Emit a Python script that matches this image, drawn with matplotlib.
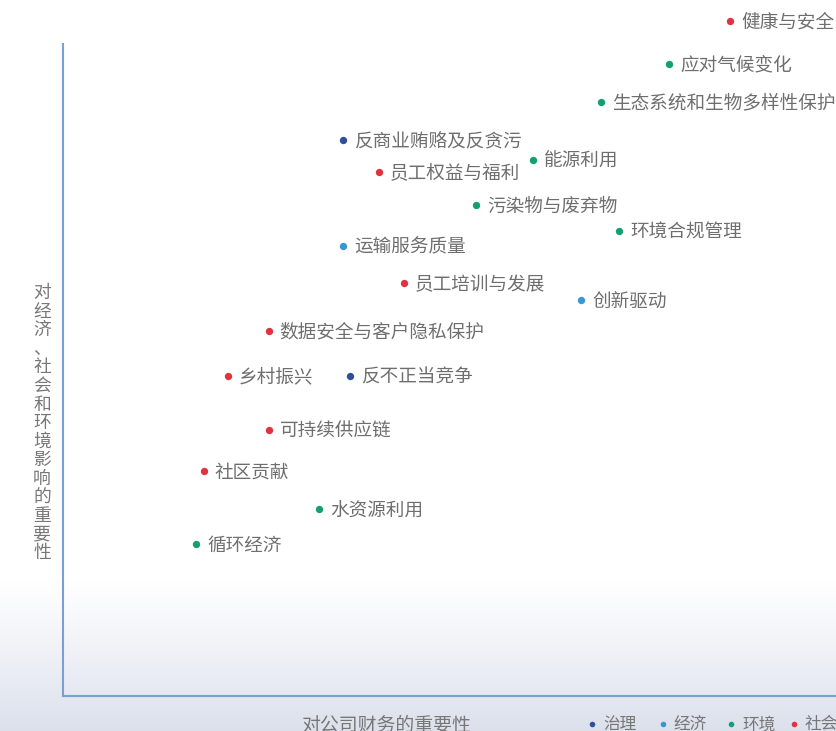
import numpy as np
import matplotlib
matplotlib.use("Agg")
import matplotlib.pyplot as plt
from matplotlib.lines import Line2D

plt.rcParams["font.family"] = ["Noto Sans CJK SC", "DejaVu Sans"]

# materiality topics: x = importance to company finances, y = importance to economy/society/environment
topics = ["健康与安全", "应对气候变化", "生态系统和生物多样性保护", "反商业贿赂及反贪污",
          "能源利用", "员工权益与福利", "污染物与废弃物", "环境合规管理", "运输服务质量",
          "员工培训与发展", "创新驱动", "数据安全与客户隐私保护", "乡村振兴", "反不正当竞争",
          "可持续供应链", "社区贡献", "水资源利用", "循环经济"]
x_finance = [8.63, 7.84, 6.96, 3.62, 6.08, 4.09, 5.34, 7.19, 3.62,
             4.41, 6.70, 2.66, 2.13, 3.71, 2.66, 1.82, 3.31, 1.72]
y_impact = [10.35, 9.69, 9.11, 8.53, 8.22, 8.04, 7.53, 7.13, 6.90,
            6.33, 6.07, 5.60, 4.91, 4.91, 4.08, 3.45, 2.87, 2.33]
group = ["社会", "环境", "环境", "治理", "环境", "社会", "环境", "环境", "经济",
         "社会", "经济", "社会", "社会", "治理", "社会", "社会", "环境", "环境"]

groups = ["治理", "经济", "环境", "社会"]
colors = {"治理": "#2f4f9a", "经济": "#3a96d2", "环境": "#12a070", "社会": "#e0323f"}

W, H = 836, 731
fig = plt.figure(figsize=(W / 100, H / 100), dpi=100)

# soft background fading to a light blue-grey at the bottom
bg = fig.add_axes([0, 0, 1, 1], zorder=-1)
rows = np.linspace(0, 1, H)
t = np.clip((rows * H - 580) / (H - 580), 0, 1) ** 1.1
top = np.array([1.0, 1.0, 1.0])
bot = np.array([0.86, 0.88, 0.925])
grad = top[None, :] * (1 - t[:, None]) + bot[None, :] * t[:, None]
bg.imshow(grad[:, None, :], aspect="auto", extent=[0, 1, 1, 0])
bg.axis("off")

ax = fig.add_axes([63 / W, (H - 696) / H, (W - 63) / W, (696 - 44) / H])
ax.set_facecolor("none")
ax.set_xlim(0, 10)
ax.set_ylim(0, 10)
for s in ["top", "right"]:
    ax.spines[s].set_visible(False)
for s in ["left", "bottom"]:
    ax.spines[s].set_color("#7a9fd3")
    ax.spines[s].set_linewidth(1.5)
ax.set_xticks([])
ax.set_yticks([])

for name, xv, yv, g in zip(topics, x_finance, y_impact, group):
    ax.scatter(xv, yv, s=28, color=colors[g], clip_on=False, zorder=3, linewidths=0)
    ax.annotate(name, (xv, yv), xytext=(8, -1), textcoords="offset points",
                va="center", ha="left", fontsize=13.4, color="#6e6e6e",
                annotation_clip=False)

# stacked vertical y label
ylab = "对经济、社会和环境影响的重要性"
for i, ch in enumerate(ylab):
    fig.text(42 / W, 1 - (293 + i * 18.6) / H, ch, ha="center", va="center",
             fontsize=12.8, color="#777777")

fig.text(386 / W, 1 - 725 / H, "对公司财务的重要性", ha="center", va="center",
         fontsize=13.6, color="#777777")

# legend row along the bottom edge
leg_dot_x = [592, 663, 731, 794]
leg_txt_x = [603, 673, 742, 805]
for g, dx, tx in zip(groups, leg_dot_x, leg_txt_x):
    fig.add_artist(Line2D([dx / W], [1 - 724 / H], marker="o", ls="", color=colors[g],
                          markersize=4, markeredgewidth=0, transform=fig.transFigure))
    fig.text(tx / W, 1 - 725 / H, g, ha="left", va="center", fontsize=12, color="#777777")

fig.savefig("out.png", dpi=100)
